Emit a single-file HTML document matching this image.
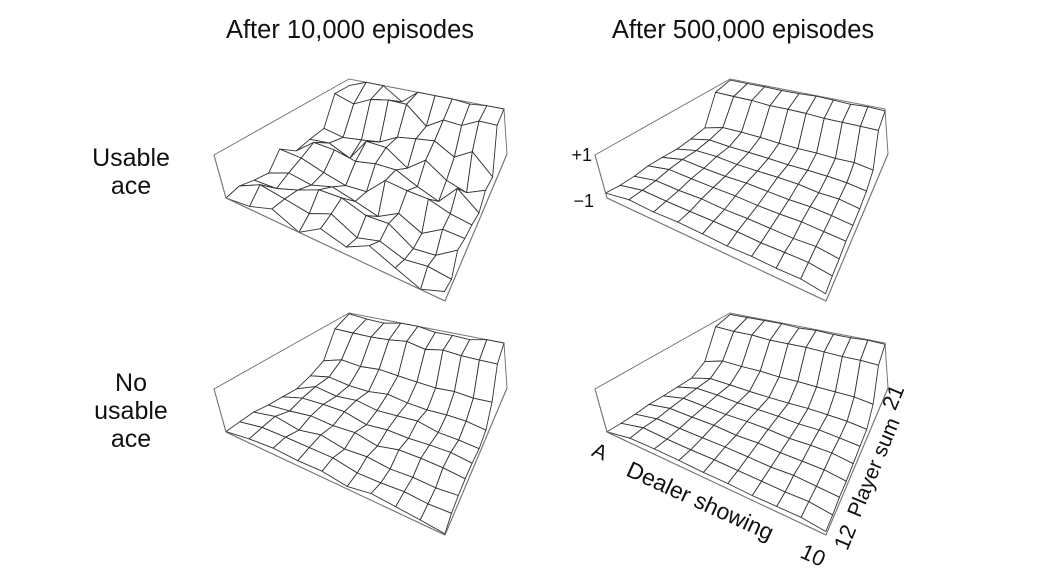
<!DOCTYPE html>
<html><head><meta charset="utf-8"><style>
html,body{margin:0;padding:0;background:#fff}
svg{display:block}
text{font-family:"Liberation Sans",Arial,sans-serif;fill:#111}
</style></head><body>
<svg id="s" width="1040" height="573" viewBox="0 0 1040 573" xmlns="http://www.w3.org/2000/svg">
<text x="350" y="38" font-size="25.5" text-anchor="middle">After 10,000 episodes</text>
<text x="743" y="38" font-size="25.5" text-anchor="middle">After 500,000 episodes</text>
<text x="131" y="166" font-size="25" text-anchor="middle">Usable</text>
<text x="131" y="194" font-size="25" text-anchor="middle">ace</text>
<text x="131" y="391" font-size="25" text-anchor="middle">No</text>
<text x="131" y="419" font-size="25" text-anchor="middle">usable</text>
<text x="131" y="447" font-size="25" text-anchor="middle">ace</text>
<text x="592" y="161" font-size="18" text-anchor="end">+1</text>
<text x="594" y="207" font-size="18" text-anchor="end">−1</text>
<text x="597" y="458" font-size="21" transform="rotate(24 597 458)" text-anchor="middle">A</text>
<text x="697" y="508" font-size="23" transform="rotate(24.5 697 508)" text-anchor="middle">Dealer showing</text>
<text x="810" y="562" font-size="22" transform="rotate(24.5 810 562)" text-anchor="middle">10</text>
<text x="852" y="540" font-size="22" transform="rotate(-67.5 852 540)" text-anchor="middle">12</text>
<text x="880" y="470" font-size="21" transform="rotate(-67.5 880 470)" text-anchor="middle">Player sum</text>
<text x="900" y="400" font-size="22" transform="rotate(-67.5 900 400)" text-anchor="middle">21</text>
<g id="g"></g>
</svg>
<script>
(function(){
var F={FL:[607,432],FR:[826,535],BR:[888,388],BL:[735,357]};
var T={FL:[595,389],FR:[823,490],BR:[885,343],BL:[730,313]};
function bil(Q,a,b){
 var x=(1-a)*(1-b)*Q.FL[0]+a*(1-b)*Q.FR[0]+a*b*Q.BR[0]+(1-a)*b*Q.BL[0];
 var y=(1-a)*(1-b)*Q.FL[1]+a*(1-b)*Q.FR[1]+a*b*Q.BR[1]+(1-a)*b*Q.BL[1];
 return [x,y];}
function P(i,j,v,ox,oy){var a=i/9,b=j/9,t=(v+1)/2;var f=bil(F,a,b),u=bil(T,a,b);
 return [f[0]+(u[0]-f[0])*t+ox,f[1]+(u[1]-f[1])*t+oy];}
var seed=11;function rnd(){seed=(seed*16807)%2147483647;return seed/2147483647;}
function base(i,j,usable){var v;
 if(j==9)v=0.95;else if(j==8)v=0.75;else if(j==7)v=-0.2;else{v=usable?-0.55+0.03*j:-0.75+0.03*j;}
 if(i==0&&j<8)v-=0.25; if(i==9&&j<8)v-=0.1;
 return Math.max(-1,Math.min(1,v));}
var g=document.getElementById('g'),out='';
function plot(ox,oy,usable,noise){
 var V=[];for(var i=0;i<10;i++){V[i]=[];for(var j=0;j<10;j++){var v=base(i,j,usable);
  if(noise){v+=(rnd()-0.5)*noise;} V[i][j]=Math.max(-1,Math.min(1,v));}}
 function pt(p){return p[0].toFixed(1)+','+p[1].toFixed(1);}
 function c(Q,k){return [Q[k][0]+ox,Q[k][1]+oy];}
 var s='';
 s+='<polyline fill="none" stroke="#777" stroke-width="1" points="'+pt(c(F,'FL'))+' '+pt(c(T,'FL'))+' '+pt(c(T,'BL'))+' '+pt(c(T,'BR'))+' '+pt(c(F,'BR'))+' '+pt(c(F,'FR'))+' '+pt(c(F,'FL'))+'"/>';
 var quads=[];
 for(var i=0;i<9;i++)for(var j=0;j<9;j++){quads.push([i,j,(j-i*0.45)]);}
 quads.sort(function(a,b){return b[2]-a[2];});
 quads.forEach(function(q){var i=q[0],j=q[1];
  var p=[P(i,j,V[i][j],ox,oy),P(i+1,j,V[i+1][j],ox,oy),P(i+1,j+1,V[i+1][j+1],ox,oy),P(i,j+1,V[i][j+1],ox,oy)];
  s+='<polygon fill="#fff" stroke="#333" stroke-width="0.9" points="'+p.map(pt).join(' ')+'"/>';});
 s+='<line stroke="#777" stroke-width="1" x1="'+(F.FL[0]+ox)+'" y1="'+(F.FL[1]+oy)+'" x2="'+(F.FR[0]+ox)+'" y2="'+(F.FR[1]+oy)+'"/>';
 s+='<line stroke="#777" stroke-width="1" x1="'+(F.FR[0]+ox)+'" y1="'+(F.FR[1]+oy)+'" x2="'+(F.BR[0]+ox)+'" y2="'+(F.BR[1]+oy)+'"/>';
 s+='<line stroke="#777" stroke-width="1" x1="'+(F.FL[0]+ox)+'" y1="'+(F.FL[1]+oy)+'" x2="'+(T.FL[0]+ox)+'" y2="'+(T.FL[1]+oy)+'"/>';
 out+=s;}
plot(-381,-234,true,1.1);
plot(0,-234,true,0.08);
plot(-381,0,false,0.25);
plot(0,0,false,0.06);
g.innerHTML=out;
})();
</script>
</body></html>
